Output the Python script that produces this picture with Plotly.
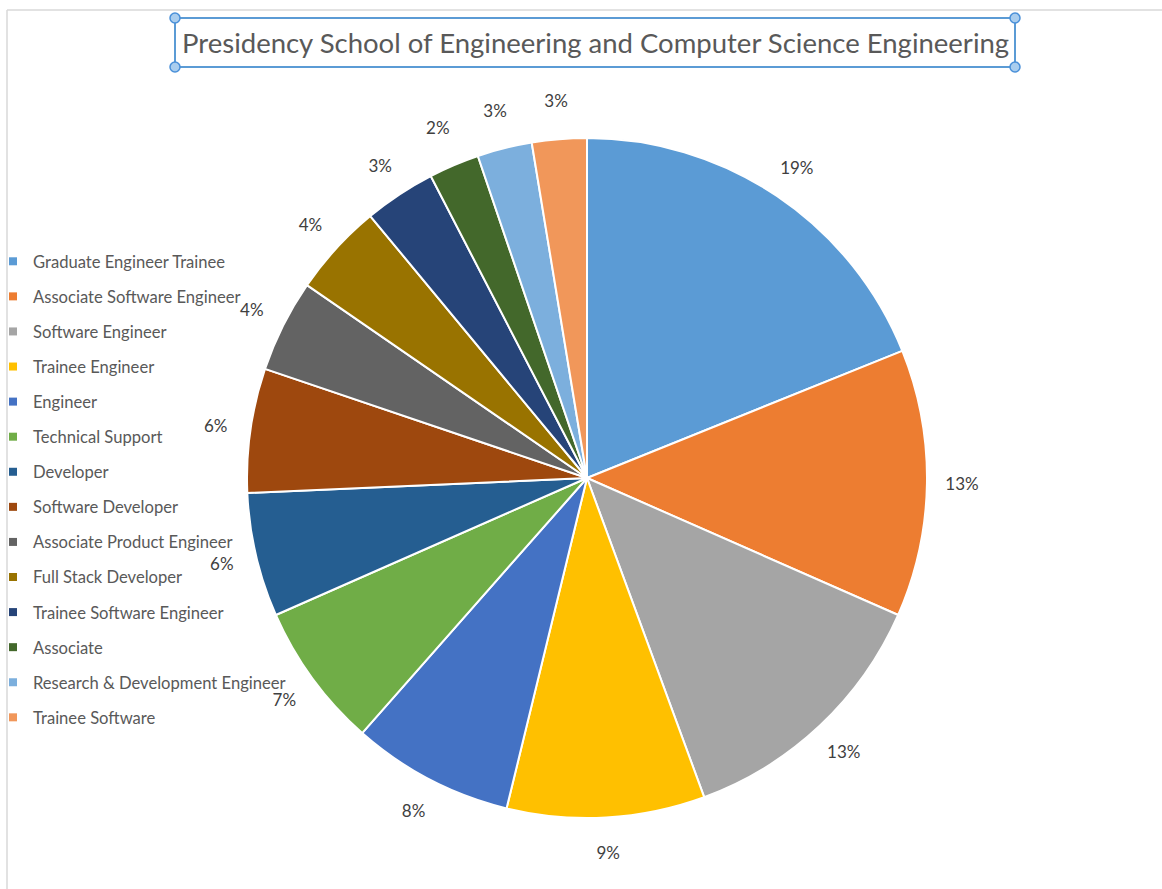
import plotly.graph_objects as go

categories = [
    "Graduate Engineer Trainee",
    "Associate Software Engineer",
    "Software Engineer",
    "Trainee Engineer",
    "Engineer",
    "Technical Support",
    "Developer",
    "Software Developer",
    "Associate Product Engineer",
    "Full Stack Developer",
    "Trainee Software Engineer",
    "Associate",
    "Research & Development Engineer",
    "Trainee Software",
]
shares = [18.9, 12.7, 12.8, 9.4, 7.7, 6.9, 5.9, 5.9, 4.4, 4.4, 3.4, 2.4, 2.6, 2.6]
colors = [
    "#5B9BD5", "#ED7D31", "#A5A5A5", "#FFC000", "#4472C4", "#70AD47", "#255E91",
    "#9E480E", "#636363", "#997300", "#264478", "#43682B", "#7CAFDD", "#F1975A",
]
title_text = "Presidency School of Engineering and Computer Science Engineering"

W, H = 1162, 889
cx, cy = 587, 478
r_pie = 340
r_ring = 410


def dom(r):
    return dict(x=[(cx - r) / W, (cx + r) / W], y=[1 - (cy + r) / H, 1 - (cy - r) / H])


fig = go.Figure()

fig.add_trace(go.Pie(
    labels=categories, values=shares, sort=False, direction="clockwise", rotation=0,
    marker=dict(colors=colors, line=dict(color="white", width=2)),
    textinfo="none", showlegend=False, domain=dom(r_pie),
    hovertemplate="%{label}: %{percent}<extra></extra>",
))

fig.add_trace(go.Pie(
    labels=categories, values=shares, sort=False, direction="clockwise", rotation=0,
    hole=r_pie / r_ring,
    marker=dict(colors=["rgba(0,0,0,0)"] * len(categories), line=dict(width=0)),
    texttemplate="%{percent:.0%}", textposition="inside", insidetextorientation="horizontal",
    textfont=dict(family="Lato", size=17, color="#404040"),
    showlegend=False, domain=dom(r_ring), hoverinfo="skip",
))

for cat, col in zip(categories, colors):
    fig.add_trace(go.Scatter(
        x=[None], y=[None], mode="markers", name=cat, legendgroup=cat,
        marker=dict(symbol="square", size=8, color=col), showlegend=True,
    ))

shapes = [
    dict(type="line", xref="paper", yref="paper", x0=7 / W, x1=1, y0=1 - 10 / H, y1=1 - 10 / H,
         line=dict(color="#D9D9D9", width=1.5)),
    dict(type="line", xref="paper", yref="paper", x0=7 / W, x1=7 / W, y0=0, y1=1 - 10 / H,
         line=dict(color="#D9D9D9", width=1.5)),
    dict(type="rect", xref="paper", yref="paper", x0=175 / W, x1=1015 / W, y0=1 - 67 / H, y1=1 - 18 / H,
         line=dict(color="#5B9BD5", width=2)),
]
for px, py in [(175, 18), (1015, 18), (175, 67), (1015, 67)]:
    shapes.append(dict(type="circle", xref="paper", yref="paper", xsizemode="pixel", ysizemode="pixel",
                       xanchor=px / W, yanchor=1 - py / H, x0=-5, x1=5, y0=-5, y1=5,
                       fillcolor="#A9CDEE", line=dict(color="#4A90D9", width=1.5)))

fig.update_layout(
    width=W, height=H,
    margin=dict(l=0, r=0, t=0, b=0, autoexpand=False),
    paper_bgcolor="white", plot_bgcolor="white",
    xaxis=dict(visible=False), yaxis=dict(visible=False),
    shapes=shapes,
    annotations=[dict(text=title_text, xref="paper", yref="paper", x=595 / W, y=1 - 43 / H,
                      showarrow=False, xanchor="center", yanchor="middle",
                      font=dict(family="Lato", size=27.5, color="#595959"))],
    legend=dict(x=-7 / W, y=1 - 244 / H, xanchor="left", yanchor="top",
                font=dict(family="Lato", size=16.6, color="#595959"),
                tracegroupgap=10.5, bgcolor="rgba(0,0,0,0)"),
    showlegend=True,
)

fig.write_html("out.html", config={"displayModeBar": False},
               post_script="document.body.style.margin='0';")
